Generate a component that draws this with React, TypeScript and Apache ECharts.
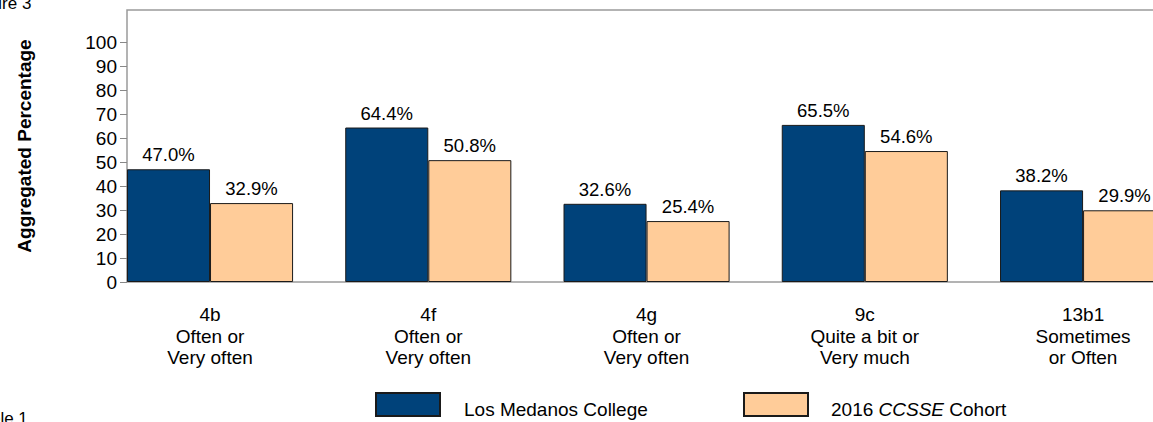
import React, { useEffect, useRef } from "react";
import * as echarts from "echarts";

const categories = [
  "4b\nOften or\nVery often",
  "4f\nOften or\nVery often",
  "4g\nOften or\nVery often",
  "9c\nQuite a bit or\nVery much",
  "13b1\nSometimes\nor Often",
];
const collegeValues = [47.0, 64.4, 32.6, 65.5, 38.2];
const cohortValues = [32.9, 50.8, 25.4, 54.6, 29.9];
const yTicks = [0, 10, 20, 30, 40, 50, 60, 70, 80, 90, 100];
const seriesNames = ["Los Medanos College", "2016 CCSSE Cohort"];

const FONT = "'Liberation Sans', Arial, sans-serif";

export default function App() {
  const ref = useRef<HTMLDivElement>(null);
  useEffect(() => {
    if (!ref.current) return;
    const chart = echarts.init(ref.current, null, { renderer: "svg" });
    const labelCfg = {
      show: true,
      position: "top",
      distance: 5,
      fontSize: 18.5,
      fontFamily: FONT,
      color: "#000",
      formatter: (p: any) => Number(p.value).toFixed(1) + "%",
    };
    const richStyle = {
      n: { fontSize: 19, color: "#000", fontFamily: FONT, padding: [10, 0, 0, 0] },
      i: { fontSize: 19, color: "#000", fontFamily: FONT, fontStyle: "italic", padding: [10, 0, 0, 0] },
    };
    chart.setOption({
      animation: false,
      textStyle: { fontFamily: FONT },
      grid: { left: 100.9, right: 7.8, top: 10, bottom: 140, containLabel: false },
      xAxis: {
        type: "category",
        data: categories,
        axisLine: { show: false },
        axisTick: { show: false },
        axisLabel: {
          interval: 0,
          fontSize: 19,
          lineHeight: 21.5,
          margin: 22,
          color: "#000",
          fontFamily: FONT,
        },
      },
      yAxis: {
        type: "value",
        min: 0,
        max: 113.4,
        interval: 10,
        offset: -26.1,
        axisLine: { show: false },
        axisTick: {
          show: true,
          length: 7,
          customValues: yTicks,
          lineStyle: { color: "#888", width: 1 },
        },
        axisLabel: {
          customValues: yTicks,
          fontSize: 19,
          margin: 10,
          color: "#000",
          fontFamily: FONT,
        },
        splitLine: { show: false },
      },
      legend: [
        {
          data: [seriesNames[0]],
          left: 375,
          top: 392,
          padding: 0,
          itemWidth: 64,
          itemHeight: 23,
          icon: "rect",
          formatter: () => "{n|Los Medanos College}",
          textStyle: {
            fontSize: 19,
            color: "#000",
            fontFamily: FONT,
            padding: [0, 0, 0, 19],
            rich: richStyle,
          },
        },
        {
          data: [seriesNames[1]],
          left: 743,
          top: 392,
          padding: 0,
          itemWidth: 64,
          itemHeight: 23,
          icon: "rect",
          formatter: () => "{n|2016 }{i|CCSSE}{n| Cohort}",
          textStyle: {
            fontSize: 19,
            color: "#000",
            fontFamily: FONT,
            padding: [0, 0, 0, 18],
            rich: richStyle,
          },
        },
      ],
      graphic: [
        {
          type: "rect",
          z: 0,
          silent: true,
          shape: { x: 127, y: 10, width: 1100, height: 272 },
          style: { fill: "none", stroke: "#9a9a9a", lineWidth: 1.5 },
        },
        {
          type: "text",
          x: 24,
          y: 146,
          rotation: Math.PI / 2,
          style: {
            text: "Aggregated Percentage",
            fontSize: 19,
            fontWeight: "bold",
            fontFamily: FONT,
            fill: "#000",
            align: "center",
            verticalAlign: "middle",
          },
        },
        {
          type: "text",
          x: -31,
          y: 12,
          style: {
            text: "Figure 3",
            fontSize: 17,
            fontFamily: FONT,
            fill: "#000",
            align: "left",
            verticalAlign: "bottom",
          },
        },
        {
          type: "text",
          x: -27,
          y: 410,
          style: {
            text: "Table 1",
            fontSize: 17,
            fontFamily: FONT,
            fill: "#000",
            align: "left",
            verticalAlign: "top",
          },
        },
      ],
      series: [
        {
          name: seriesNames[0],
          type: "bar",
          data: collegeValues,
          barGap: "0%",
          barCategoryGap: "23.9%",
          itemStyle: { color: "#00427A", borderColor: "#1a1a1a", borderWidth: 1 },
          label: labelCfg,
        },
        {
          name: seriesNames[1],
          type: "bar",
          data: cohortValues,
          barGap: "0%",
          barCategoryGap: "23.9%",
          itemStyle: { color: "#FFCC99", borderColor: "#1a1a1a", borderWidth: 1 },
          label: labelCfg,
        },
      ],
    });
    return () => chart.dispose();
  }, []);
  return (
    <div
      style={{
        position: "absolute",
        left: 0,
        top: 0,
        width: 1153,
        height: 422,
        overflow: "hidden",
      }}
    >
      <div ref={ref} style={{ width: 1200, height: 422 }} />
    </div>
  );
}
